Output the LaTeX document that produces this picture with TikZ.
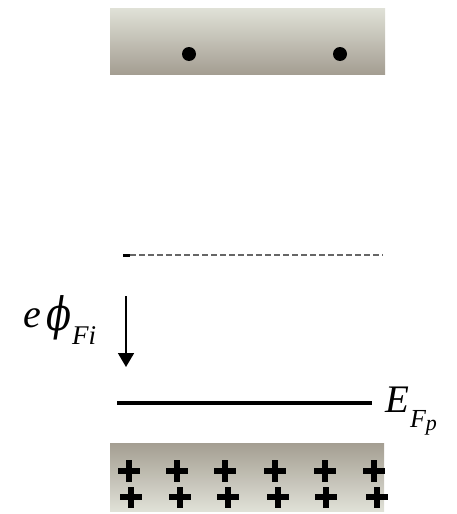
\documentclass[tikz,border=0pt]{standalone}
\usepackage{fontspec}
\usepackage{graphicx}
\newfontfamily\lblfont{Liberation Serif}
\newfontfamily\phifont{DejaVu Serif}
\usetikzlibrary{arrows.meta}
\definecolor{barlight}{RGB}{224,225,215}
\definecolor{bardark}{RGB}{164,158,146}
\tikzset{
  electron/.style={circle,fill=black,inner sep=0pt,minimum size=14pt},
  plusmark/.style={line width=5.4pt},
  level/.style={line width=3.2pt},
  fermidash/.style={line width=1.6pt,dash pattern=on 6pt off 3pt,black!60},
  lbl/.style={inner sep=0pt}
}
\begin{document}
\begin{tikzpicture}[x=1pt,y=-1pt]
\useasboundingbox (0,0) rectangle (456,514);
% top band (conduction) with electrons
\shade[top color=barlight,bottom color=bardark] (110,8) rectangle (385,74);
\node[electron] (d1) at (189,54) {};
\node[electron] (d2) at (340,54) {};
% intrinsic Fermi level (dashed)
\coordinate (fi0) at (130,255);
\coordinate (fi1) at (383,255);
\draw[line width=3pt] (123,255) -- (fi0);
\draw[fermidash] (fi0) -- (fi1);
% arrow
\coordinate (a0) at (126,296);
\coordinate (a1) at (126,367);
\draw[line width=1.8pt,-{Triangle[length=14pt,width=16pt]}] (a0) -- (a1);
\node[lbl,anchor=base west] (ephi) at (23,327)
  {\lblfont{\fontsize{40}{44}\selectfont\itshape e}\hspace{6pt}\raisebox{-3pt}{\scalebox{0.8}[1]{\phifont\itshape\fontsize{46}{50}\selectfont ϕ}}\raisebox{-17pt}{\fontsize{27}{30}\selectfont\itshape Fi}};
% Fermi level
\coordinate (ef0) at (117,403);
\coordinate (ef1) at (372,403);
\draw[level] (ef0) -- (ef1);
\node[lbl,anchor=base west] (efp) at (385,412)
  {\lblfont\itshape{\fontsize{39}{42}\selectfont E}\hspace{1pt}\raisebox{-15pt}{\fontsize{26}{28}\selectfont F\raisebox{-3pt}{\fontsize{22}{24}\selectfont p}}};
% bottom band (valence) with holes
\shade[top color=bardark,bottom color=barlight] (110,443) rectangle (384,511);
\foreach \x in {129,177,225,275,325,374}{
  \draw[plusmark] (\x-11,471) -- (\x+11,471) (\x,460) -- (\x,482);
}
\foreach \x in {131,180,228,278,326,377}{
  \draw[plusmark] (\x-11,497) -- (\x+11,497) (\x,487) -- (\x,508);
}
\end{tikzpicture}
\end{document}
